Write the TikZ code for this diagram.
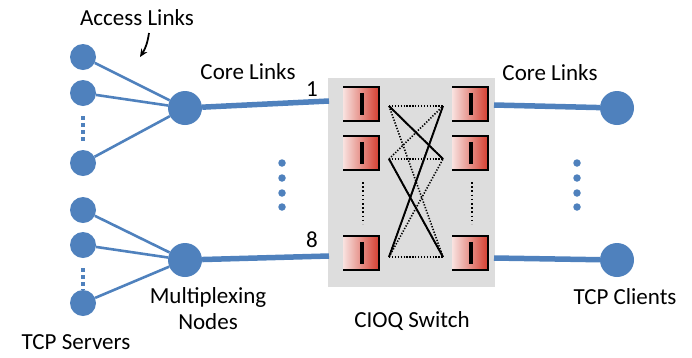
\documentclass[tikz,border=0pt]{standalone}
\usepackage{fontspec}
\setmainfont{Carlito}
\usetikzlibrary{positioning,arrows.meta}
\definecolor{linkblue}{RGB}{79,129,189}
\definecolor{qred}{RGB}{212,62,48}
\definecolor{swgray}{RGB}{221,221,221}
\tikzset{
  server/.style={circle, fill=linkblue, inner sep=0pt, minimum size=26pt},
  muxnode/.style={circle, fill=linkblue, inner sep=0pt, minimum size=34pt},
  access/.style={draw=linkblue, line width=2.6pt},
  core/.style={draw=linkblue, line width=5.5pt},
  lbl/.style={font=\fontsize{23}{26}\selectfont, inner sep=0pt},
  bluedot/.style={circle, fill=linkblue, inner sep=0pt, minimum size=7.5pt},
  xdotted/.style={black, line width=1.6pt, dash pattern=on 1.3pt off 1.6pt},
  xsolid/.style={black, line width=1.9pt},
}
% queue: open at the left, shaded towards red
\newcommand{\queuebox}[2]{%
  \shade[left color=white!85!qred, right color=qred] (#1,#2) rectangle ++(36,34);
  \draw[black, line width=2pt] (#1,#2) -- ++(36,0) -- ++(0,34) -- ++(-36,0);
  \draw[black, line width=3.2pt] (#1+19,#2+6) -- ++(0,22);
}
\begin{document}
\begin{tikzpicture}[x=1pt, y=-1pt]
\useasboundingbox (0,0) rectangle (692,357);

% switch
\fill[swgray] (328,78) rectangle (495,287);
\coordinate (swin1) at (329,101);
\coordinate (swin8) at (329,256);
\coordinate (swout1) at (494,105);
\coordinate (swout8) at (494,258);

% TCP servers and multiplexing nodes
\node[server] (s1) at (83,57) {};
\node[server] (s2) at (83,93) {};
\node[server] (s3) at (83,163) {};
\node[server] (s4) at (83,210) {};
\node[server] (s5) at (83,245) {};
\node[server] (s6) at (83,303) {};
\node[muxnode] (m1) at (185,108) {};
\node[muxnode] (m8) at (185,260) {};
\draw[linkblue, line width=3.5pt, dash pattern=on 3.5pt off 3.5pt] (83,116) -- (83,142);
\draw[linkblue, line width=3.5pt, dash pattern=on 3.5pt off 3.5pt] (83,268) -- (83,290);
\foreach \s in {s1,s2,s3} \draw[access] (\s) -- (m1);
\foreach \s in {s4,s5,s6} \draw[access] (\s) -- (m8);
\draw[core] (m1) -- (swin1);
\draw[core] (m8) -- (swin8);

% TCP clients
\node[muxnode] (c1) at (617,108) {};
\node[muxnode] (c8) at (617,260) {};
\draw[core] (swout1) -- (c1);
\draw[core] (swout8) -- (c8);

% dots between the links
\foreach \y in {163,178,193,207} {
  \node[bluedot] at (282,\y) {};
  \node[bluedot] at (577,\y) {};
}

% queues
\foreach \y in {87,136,236} {
  \queuebox{343}{\y}
  \queuebox{452}{\y}
}
\draw[black, line width=2pt, dash pattern=on 1.6pt off 2.6pt] (363,182) -- (363,224);
\draw[black, line width=2pt, dash pattern=on 1.6pt off 2.6pt] (472,182) -- (472,224);

% crossbar
\coordinate (in1) at (389,106);
\coordinate (in2) at (389,159);
\coordinate (in3) at (389,257);
\coordinate (out1) at (443,106);
\coordinate (out2) at (443,159);
\coordinate (out3) at (443,257);
\foreach \i in {1,2,3}
  \foreach \j in {1,2,3}
    \draw[xdotted] (in\i) -- (out\j);
\draw[xsolid] (in1) -- (out2);
\draw[xsolid] (in2) -- (out3);
\draw[xsolid] (in3) -- (out1);

% labels
\node[lbl] (accesslbl) at (137,18) {Access Links};
\coordinate (accesstip) at (140,57);
\draw[-{Stealth[length=8pt,width=7pt]}, line width=1.8pt] (149,33) to[bend left=12] (accesstip);
\node[lbl] (coreleft) at (248,72) {Core Links};
\node[lbl] (coreright) at (550,73) {Core Links};
\node[lbl] (one) at (312,89) {1};
\node[lbl] (eight) at (312,240) {8};
\node[lbl, align=center] (muxlbl) at (208,309) {Multiplexing\\Nodes};
\node[lbl] (switchlbl) at (412,321) {CIOQ Switch};
\node[lbl] (clientlbl) at (625,297) {TCP Clients};
\node[lbl] (serverlbl) at (76,342) {TCP Servers};
\end{tikzpicture}
\end{document}
